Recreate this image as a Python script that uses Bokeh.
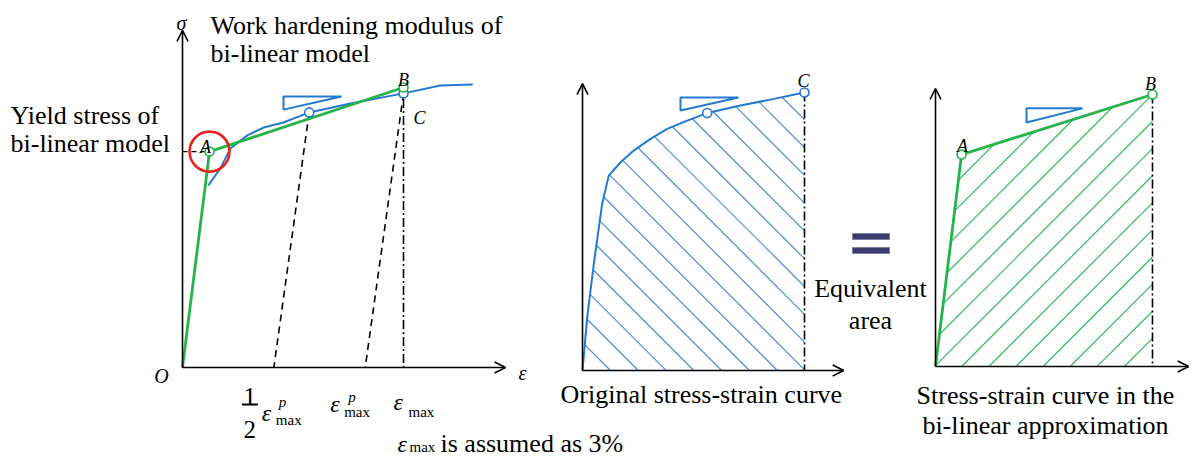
import numpy as np
from bokeh.plotting import figure
from bokeh.models import Range1d, Arrow, OpenHead, Label
from bokeh.embed import file_html
from bokeh.resources import INLINE

# ---------------- data (strain in %, stress normalised by stress at eps_max) ----------------
EPS_MAX = 3.0                 # eps_max is assumed as 3 %
EPS_P_MAX = 2.48              # plastic strain after unloading from eps_max
EPS_HALF = EPS_P_MAX / 2.0    # 1/2 eps_p_max

# panel 1: original curve (visible part, blue) and bi-linear model (green)
orig1_eps = [0.35, 0.52, 0.65, 0.88, 1.10, 1.37, 1.72, 2.28, 3.00, 3.50, 3.94]
orig1_sig = [0.65, 0.714, 0.782, 0.829, 0.857, 0.875, 0.911, 0.943, 0.979, 1.007, 1.011]
bilin1_eps = [0.0, 0.367, 3.0]
bilin1_sig = [0.0, 0.771, 1.0]
mid1_eps, mid1_sig = 1.72, 0.911      # point unloading to 1/2 eps_p_max
c1_eps, c1_sig = 3.0, 0.979           # point C

# panel 2: original stress-strain curve
orig2_eps = [0.0, 0.064, 0.153, 0.266, 0.355, 0.514, 0.693, 0.919, 1.145, 1.415, 1.685, 2.135, 2.585, 3.0]
orig2_sig = [0.0, 0.192, 0.384, 0.600, 0.701, 0.749, 0.791, 0.833, 0.869, 0.899, 0.926, 0.953, 0.977, 1.0]
mid2_eps, mid2_sig = 1.685, 0.926

# panel 3: bi-linear approximation
bilin3_eps = [0.0, 0.36, 3.0]
bilin3_sig = [0.0, 0.779, 1.0]

# slope triangles: eps_left, eps_right, sig_top, sig_bottom
tri1 = (1.371, 2.158, 0.968, 0.921)
tri2 = (1.324, 2.108, 0.982, 0.935)
tri3 = (1.258, 2.032, 0.949, 0.897)

# ---------------- layout ----------------
W, H = 1193, 457
BLUE = "#2479d1"
HBLUE = "#4d8bd6"
GREEN = "#25b34a"
HGREEN = "#33bb5c"
RED = "#e8231f"
NAVY = "#3b3b70"
SERIF = "Liberation Serif"

# panel origin (page px) and scale (px per % strain, px per unit stress)
PANELS = {"p1": (182, 367, 73.67, 280.0),
          "p2": (582, 370, 74.0, 278.0),
          "p3": (935, 366, 72.33, 272.0)}

p = figure(width=W, height=H, x_range=Range1d(0, W), y_range=Range1d(H, 0),
           output_backend="svg", toolbar_location=None, min_border=0,
           x_axis_location=None, y_axis_location=None)
p.grid.visible = False
p.outline_line_color = None

for name, (ox, oy, sx, sy) in PANELS.items():
    p.extra_x_ranges[name + "x"] = Range1d(-ox / sx, (W - ox) / sx)
    p.extra_y_ranges[name + "y"] = Range1d(-(H - oy) / sy, oy / sy)

def R(name):
    return dict(x_range_name=name + "x", y_range_name=name + "y")

def axes(name, x_end, y_end):
    for (xs, ys, xe, ye) in [(0, 0, x_end, 0), (0, 0, 0, y_end)]:
        p.add_layout(Arrow(end=OpenHead(size=11, line_width=1.6, line_color="black"),
                           x_start=xs, y_start=ys, x_end=xe, y_end=ye,
                           line_width=1.6, line_color="black", **R(name)))

def triangle(name, t):
    e0, e1, s0, s1 = t
    p.patch([e0, e1, e0], [s0, s0, s1], fill_color=None, line_color=BLUE, line_width=2, **R(name))

def hatch_lines(name, eps, sig, direction, first, step):
    """45-degree hatch lines (in screen space) clipped to area under the curve, up to EPS_MAX."""
    ox, oy, sx, sy = PANELS[name]
    X = np.linspace(0, EPS_MAX * sx, 4000)
    top = np.interp(X / sx, eps, sig) * sy
    xs, ys = [], []
    c = first
    while c > -400:
        c -= step
    while c < 800:
        Y = (c - X) if direction == "back" else (X - c)
        inside = (Y >= 0) & (Y <= top)
        if inside.sum() > 2:
            idx = np.where(inside)[0]
            x0, x1 = X[idx[0]], X[idx[-1]]
            y0, y1 = Y[idx[0]], Y[idx[-1]]
            xs.append([x0 / sx, x1 / sx])
            ys.append([y0 / sy, y1 / sy])
        c += step
    return xs, ys

# ---------- panel 1 ----------
axes("p1", 4.385, 1.204)
p.line([0, bilin1_eps[1]], [bilin1_sig[1]] * 2, line_color="black", line_width=1.4,
       line_dash="5 4", **R("p1"))
p.line([mid1_eps, EPS_HALF], [mid1_sig, 0], line_color="black", line_width=1.6, line_dash="7 5", **R("p1"))
p.line([c1_eps, EPS_P_MAX], [c1_sig, 0], line_color="black", line_width=1.6, line_dash="7 5", **R("p1"))
p.line([EPS_MAX, EPS_MAX], [c1_sig - 0.02, 0], line_color="black", line_width=1.6,
       line_dash="9 3 2 3", **R("p1"))
p.line(orig1_eps, orig1_sig, line_color=BLUE, line_width=2, **R("p1"))
p.line(bilin1_eps, bilin1_sig, line_color=GREEN, line_width=2.8, **R("p1"))
triangle("p1", tri1)
p.scatter([mid1_eps, c1_eps], [mid1_sig, c1_sig], size=9, marker="circle", fill_color="white",
          line_color=BLUE, line_width=1.6, **R("p1"))
p.scatter(bilin1_eps[1:], bilin1_sig[1:], size=9, marker="circle", fill_color="white",
          line_color=GREEN, line_width=1.6, **R("p1"))
p.scatter([bilin1_eps[1]], [bilin1_sig[1]], size=40, marker="circle", fill_color=None,
          line_color=RED, line_width=2.6, **R("p1"))

# ---------- panel 2 ----------
axes("p2", 3.53, 1.032)
hx, hy = hatch_lines("p2", orig2_eps, orig2_sig, "back", 28.0, 27.8)
p.multi_line(hx, hy, line_color=HBLUE, line_width=1.2, **R("p2"))
p.line([EPS_MAX, EPS_MAX], [orig2_sig[-1], 0], line_color="black", line_width=1.6,
       line_dash="9 3 2 3", **R("p2"))
p.line(orig2_eps, orig2_sig, line_color=BLUE, line_width=2, **R("p2"))
triangle("p2", tri2)
p.scatter([mid2_eps, orig2_eps[-1]], [mid2_sig, orig2_sig[-1]], size=9, marker="circle",
          fill_color="white", line_color=BLUE, line_width=1.6, **R("p2"))

# ---------- panel 3 ----------
axes("p3", 3.5, 1.022)
hx, hy = hatch_lines("p3", bilin3_eps, bilin3_sig, "fwd", 53.3, 27.1)
p.multi_line(hx, hy, line_color=HGREEN, line_width=1.2, **R("p3"))
p.line([EPS_MAX, EPS_MAX], [bilin3_sig[-1], 0], line_color="black", line_width=1.6,
       line_dash="9 3 2 3", **R("p3"))
p.line(bilin3_eps, bilin3_sig, line_color=GREEN, line_width=2.8, **R("p3"))
triangle("p3", tri3)
p.scatter(bilin3_eps[1:], bilin3_sig[1:], size=9, marker="circle", fill_color="white",
          line_color=GREEN, line_width=1.6, **R("p3"))

# ---------- "=" sign and fraction bar ----------
ox1, _, sx1, _ = PANELS["p1"]
bar_x = ox1 + EPS_HALF * sx1
p.quad(left=[852, 852, bar_x - 32], right=[889, 889, bar_x - 16], top=[233, 247, 403],
       bottom=[239, 253, 405], fill_color=[NAVY, NAVY, "black"],
       line_color=["#7f7fa8", "#7f7fa8", None], line_width=1)

# ---------- texts ----------
def lab(text, x, y, size=26, style="normal", align="left", font=SERIF, xr=None, dx=0, color="black"):
    kw = {}
    if xr:
        kw["x_range_name"] = xr
    p.add_layout(Label(x=x, y=y, text=text, text_font=font, text_font_size=f"{size}px",
                       text_font_style=style, text_align=align, text_baseline="alphabetic",
                       x_offset=dx, text_color=color, **kw))

lab("Work hardening modulus of", 210, 25)
lab("bi-linear model", 210, 53)
lab("Yield stress of", 10, 115)
lab("bi-linear model", 10, 143)
lab("σ", 181, 22, size=20, style="italic", align="center")
lab("O", 161, 375, size=20, style="italic", align="center")
lab("ε", 522, 372, size=20, style="italic", align="center")
lab("A", 205, 146, size=18, style="italic", align="center")
lab("B", 403, 79, size=18, style="italic", align="center")
lab("C", 419, 117, size=18, style="italic", align="center")
lab("C", 803, 80, size=18, style="italic", align="center")
lab("A", 962, 145, size=18, style="italic", align="center")
lab("B", 1150, 83, size=18, style="italic", align="center")

# tick labels of panel 1 placed at the strain values (x in strain units of panel 1)
lab("1", EPS_HALF, 396, size=25, align="center", xr="p1x", dx=-24)
lab("2", EPS_HALF, 429, size=25, align="center", xr="p1x", dx=-24)
lab("ε", EPS_HALF, 412, size=24, style="italic", align="left", xr="p1x", dx=-12)
lab("p", EPS_HALF, 401, size=15, style="italic", align="left", xr="p1x", dx=5)
lab("max", EPS_HALF, 419, size=15, align="left", xr="p1x", dx=2)
lab("ε", EPS_P_MAX, 403, size=24, style="italic", align="left", xr="p1x", dx=-35)
lab("p", EPS_P_MAX, 396, size=15, style="italic", align="left", xr="p1x", dx=-17)
lab("max", EPS_P_MAX, 411, size=15, align="left", xr="p1x", dx=-21)
lab("ε", EPS_MAX, 401, size=24, style="italic", align="left", xr="p1x", dx=-10)
lab("max", EPS_MAX, 411, size=15, align="left", xr="p1x", dx=5)

lab("ε", 397, 443, size=24, style="italic")
lab("max", 409, 446, size=15)
lab("is assumed as 3%", 440, 443, size=26)

lab("Original stress-strain curve", 560, 394)
lab("Equivalent", 870, 288, align="center")
lab("area", 870, 320, align="center")
lab("Stress-strain curve in the", 1045, 395, align="center")
lab("bi-linear approximation", 1045, 425, align="center")

open("out.html", "w").write(file_html(p, INLINE))
